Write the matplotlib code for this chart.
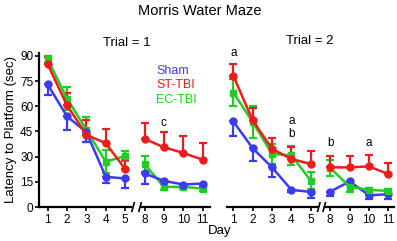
import numpy as np
import matplotlib
matplotlib.use("Agg")
import matplotlib.pyplot as plt

plt.rcParams['font.family'] = ['Liberation Sans', 'DejaVu Sans']

days = [1, 2, 3, 4, 5, 8, 9, 10, 11]
groups = ['Sham', 'ST-TBI', 'EC-TBI']
colors = {'Sham': '#3b3bf0', 'ST-TBI': '#ee1c1c', 'EC-TBI': '#22cc22'}
markers = {'Sham': 'o', 'ST-TBI': 'o', 'EC-TBI': 's'}

# trial 1 means and SEM
t1_sham = [73, 54, 44.6, 18, 17, 20, 15.6, 13.4, 14]
t1_sham_err = [6.5, 8, 6, 3.5, 5.5, 6, 2, 1.5, 1.5]
t1_st = [85, 60.6, 43, 38, 22.6, 40.6, 35.6, 32.2, 28.2]
t1_st_err = [4.6, 7.6, 9, 8.6, 5.4, 9.4, 9, 9.8, 9.8]
t1_ec = [88, 64.6, 46, 27, 30.4, 25.6, 12, 12, 11]
t1_ec_err = [2, 7, 7.4, 7, 3, 5, 2, 1.5, 1.5]

# trial 2 means and SEM
t2_sham = [51, 35, 23.6, 10.2, 9, 9.2, 15.2, 7, 7.6]
t2_sham_err = [9, 7.4, 6, 1, 3.4, 2.6, 2, 2, 3]
t2_st = [78.2, 51.6, 34.6, 28.6, 25.6, 23.6, 23.6, 24.2, 19.6]
t2_st_err = [6.8, 7.4, 6.6, 7.4, 8, 7, 6.6, 6.8, 6.6]
t2_ec = [68.2, 50.6, 31.6, 30.8, 15.6, 23.2, 12.2, 10.2, 9.6]
t2_ec_err = [8, 9.6, 6, 5.5, 5, 5, 3, 1, 1]

# significance letters: (trial, day, label, y)
letters = [(1, 9, 'c', 50), (2, 1, 'a', 92), (2, 4, 'a', 51), (2, 4, 'b', 43.5),
           (2, 8, 'b', 38), (2, 10, 'a', 38)]

pos = np.arange(len(days))
# error bar direction per group: -1 below, +1 above, 0 both
err_dir = {'Sham': -1, 'ST-TBI': 1, 'EC-TBI': 0}

fig = plt.figure(figsize=(3.97, 2.41), dpi=100)
ax1 = fig.add_axes([0.098, 0.141, 0.432, 0.641])
ax2 = fig.add_axes([0.573, 0.141, 0.420, 0.641])

data = {
    1: {'Sham': (t1_sham, t1_sham_err), 'ST-TBI': (t1_st, t1_st_err), 'EC-TBI': (t1_ec, t1_ec_err)},
    2: {'Sham': (t2_sham, t2_sham_err), 'ST-TBI': (t2_st, t2_st_err), 'EC-TBI': (t2_ec, t2_ec_err)},
}

def draw_panel(ax, trial, x0, x1, brk):
    for g in ['EC-TBI', 'Sham', 'ST-TBI'] if trial == 1 else ['Sham', 'EC-TBI', 'ST-TBI']:
        vals, err = data[trial][g]
        vals = np.array(vals)
        err = np.array(err)
        d = err_dir[g]
        lo = err if d <= 0 else np.zeros_like(err)
        hi = err if d >= 0 else np.zeros_like(err)
        for seg in (slice(0, 5), slice(5, 9)):
            ax.errorbar(pos[seg], vals[seg], yerr=[lo[seg], hi[seg]], color=colors[g],
                        marker=markers[g], ms=5, lw=1.8, elinewidth=1.6, capsize=3,
                        capthick=1.6, clip_on=False)
    ax.set_xlim(x0, x1)
    ax.set_ylim(0, 92)
    for s in ['top', 'right', 'bottom']:
        ax.spines[s].set_visible(False)
    # broken x axis
    ax.plot([x0, brk[0]], [0, 0], color='black', lw=1.6, clip_on=False)
    ax.plot([brk[1], x1], [0, 0], color='black', lw=1.6, clip_on=False)
    for bx in (brk[0] + 0.05, brk[1] - 0.12):
        ax.plot([bx, bx + 0.12], [-2.5, 2.5], color='black', lw=1.2, clip_on=False)
    ax.set_xticks(pos)
    ax.set_xticklabels([str(d) for d in days])
    ax.tick_params(axis='x', length=3, width=1.2, pad=2, labelsize=8.5)
    ax.tick_params(axis='y', length=3, width=1.2, pad=1, labelsize=8.5)
    for tr, day, lab, y in letters:
        if tr == trial:
            ax.text(days.index(day), y, lab, ha='center', va='center', fontsize=8.5)

draw_panel(ax1, 1, -0.45, 8.4, (4.3, 4.83))
draw_panel(ax2, 2, -0.3, 8.3, (4.3, 4.75))
ax1.spines['left'].set_linewidth(1.6)
ax1.set_yticks([0, 15, 30, 45, 60, 75, 90])
ax1.set_ylabel('Latency to Platform (sec)', fontsize=9.5, labelpad=2)
ax2.spines['left'].set_visible(False)
ax2.set_yticks([])

# legend as coloured text
for i, g in enumerate(['Sham', 'ST-TBI', 'EC-TBI']):
    ax1.text(5.6, 81 - 8.6 * i, g, color=colors[g], fontsize=9, va='center', ha='left')

fig.text(0.504, 0.954, 'Morris Water Maze', ha='center', va='center', fontsize=10.5)
fig.text(0.32, 0.822, 'Trial = 1', ha='center', va='center', fontsize=9.5)
fig.text(0.78, 0.83, 'Trial = 2', ha='center', va='center', fontsize=9.5)
fig.text(0.552, 0.04, 'Day', ha='center', va='center', fontsize=9.5)

fig.savefig('out.png', dpi=100)
